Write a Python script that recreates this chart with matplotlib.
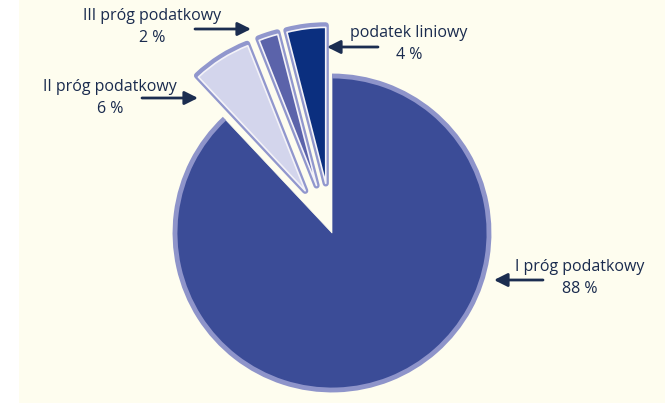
import matplotlib.pyplot as plt
from matplotlib.patches import Arc

# udział podatników wg skali podatkowej
labels = ['I próg podatkowy', 'II próg podatkowy', 'III próg podatkowy', 'podatek liniowy']
shares = [88, 6, 2, 4]
colors = ['#3B4C97', '#D3D5EC', '#5B63AA', '#0B2F7F']

text_col = '#1A2B4E'
bg_col = '#FEFDEF'
plt.rcParams['font.family'] = ['Open Sans', 'DejaVu Sans']

fig = plt.figure(figsize=(6.72, 4.03), dpi=100, facecolor='white')
bg = fig.add_axes([19 / 672, 0, 646 / 672, 1])
bg.axis('off')
bg.add_patch(plt.Rectangle((0, 0), 1, 1, transform=bg.transAxes,
                           facecolor=bg_col, edgecolor='none'))

ax = fig.add_axes([0, 0, 1, 1])
ax.set_facecolor('none')

H = 403
center = (332, H - 233)
radius = 158
explode = [0, 50, 50, 50]

# outline of the brush-like border, then white inner stroke
outer, _ = ax.pie(shares, colors=colors, startangle=90, counterclock=False,
                  center=center, radius=radius, explode=explode,
                  wedgeprops=dict(edgecolor='#9197CD', linewidth=4.5, joinstyle='round'))
inner, _ = ax.pie(shares, colors=colors, startangle=90, counterclock=False,
                  center=center, radius=radius - 2, explode=explode,
                  wedgeprops=dict(edgecolor='#F4F3F8', linewidth=1.2, joinstyle='round'))

# the big slice only has a border along its arc
big = outer[0]
big.set_edgecolor(bg_col)
big.set_linewidth(2)
inner[0].set_edgecolor(bg_col)
inner[0].set_linewidth(0.5)
ax.add_patch(Arc(big.center, 2 * (radius - 1), 2 * (radius - 1), theta1=big.theta1,
                 theta2=big.theta2, color='#8E94CA', lw=3.5))

ax.set_xlim(0, 672)
ax.set_ylim(0, H)
ax.set_aspect('equal')
ax.axis('off')

# label text (x, y top-down) and arrow (start -> end)
label_pos = [(580, 267), (110, 87), (152, 16), (409, 33)]
arrows = [((543, 280), (494, 280)), ((142, 98), (198, 98)),
          ((195, 29), (251, 29)), ((378, 47), (327, 47))]

for lab, val, (lx, ly), (start, end) in zip(labels, shares, label_pos, arrows):
    ax.text(lx, H - ly, lab, ha='center', va='center', fontsize=11.5, color=text_col)
    ax.text(lx, H - ly - 22, f'{val} %', ha='center', va='center', fontsize=11.5,
            color=text_col)
    ax.annotate('', xy=(end[0], H - end[1]), xytext=(start[0], H - start[1]),
                arrowprops=dict(arrowstyle='-|>,head_length=0.8,head_width=0.4',
                                color='#1B2D50', lw=2, shrinkA=0, shrinkB=0))

fig.savefig('out.png', dpi=100, facecolor=fig.get_facecolor())
